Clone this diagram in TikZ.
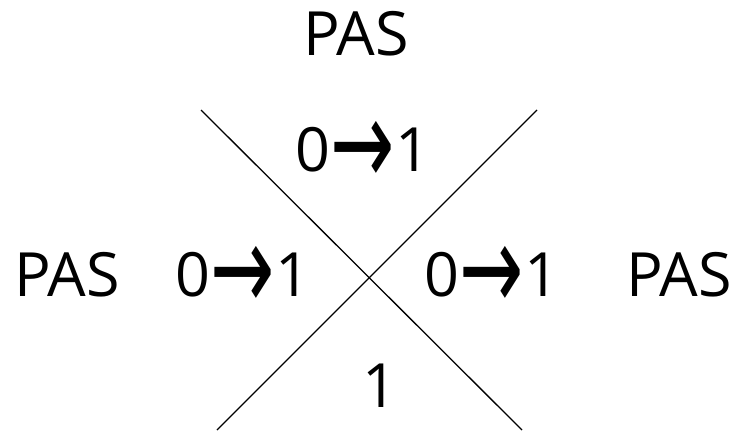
\documentclass[tikz,border=0pt]{standalone}
\usepackage{fontspec}
\setmainfont{Open Sans}
\newfontfamily\arrowfont{DejaVu Sans}
\begin{document}
\begin{tikzpicture}[x=1pt,y=-1pt,
  lbl/.style={font=\fontsize{61}{61}\selectfont, inner sep=0pt, anchor=base},
  ln/.style={line width=1.3pt}]
\useasboundingbox (0,0) rectangle (734,432);
\newcommand{\arr}{\raisebox{-14pt}{\scalebox{1.2}[1.9]{\arrowfont\fontsize{64}{64}\selectfont →}}}
\coordinate (a1) at (201,110);
\coordinate (a2) at (522,430);
\coordinate (b1) at (537,110);
\coordinate (b2) at (217,430);
\draw[ln] (a1) -- (a2);
\draw[ln] (b1) -- (b2);
\node[lbl] (tp) at (356,55) {PAS};
\node[lbl] (t) at (363,171) {0\arr1};
\node[lbl] (lp) at (67,296) {PAS};
\node[lbl] (l) at (243,296) {0\arr1};
\node[lbl] (r) at (492,296) {0\arr1};
\node[lbl] (rp) at (679,296) {PAS};
\node[lbl] (b) at (380,407) {1};
\end{tikzpicture}
\end{document}
